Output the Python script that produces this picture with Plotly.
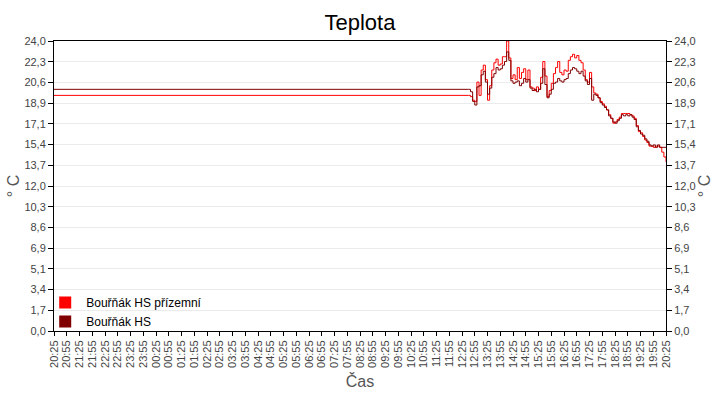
import plotly.graph_objects as go

# --- data -------------------------------------------------------------
start_day = "2024-06-01"
next_day = "2024-06-02"

# first sample (previous day, 20:25) then samples on the next day
first_time = "20:25"
first_red = 19.5
first_dark = 20.0

times = [
    "12:40", "12:45", "12:50", "12:55", "13:00", "13:05", "13:10", "13:15", "13:20", "13:25",
    "13:30", "13:35", "13:40", "13:45", "13:50", "13:55", "14:00", "14:05", "14:10", "14:15",
    "14:20", "14:25", "14:30", "14:35", "14:40", "14:45", "14:50", "14:55", "15:00", "15:05",
    "15:10", "15:15", "15:20", "15:25", "15:30", "15:35", "15:40", "15:45", "15:50", "15:55",
    "16:00", "16:05", "16:10", "16:15", "16:20", "16:25", "16:30", "16:35", "16:40", "16:45",
    "16:50", "16:55", "17:00", "17:05", "17:10", "17:15", "17:20", "17:25", "17:30", "17:35",
    "17:40", "17:45", "17:50", "17:55", "18:00", "18:05", "18:10", "18:15", "18:20", "18:25",
    "18:30", "18:35", "18:40", "18:45", "18:50", "18:55", "19:00", "19:05", "19:10", "19:15",
    "19:20", "19:25", "19:30", "19:35", "19:40", "19:45", "19:50", "19:55", "20:00", "20:05",
    "20:10", "20:15", "20:20", "20:25",
]

red_vals = [  # Bouřňák HS přízemní
    19.5, 19.4, 19.1, 19.0, 20.6, 19.5, 21.6, 22.0, 20.8, 19.1,
    20.3, 21.6, 22.2, 22.5, 22.0, 22.1, 22.7, 22.7, 24.0, 22.6,
    20.9, 21.2, 20.8, 21.8, 20.9, 21.4, 21.7, 20.8, 21.6, 20.2,
    20.1, 19.9, 20.2, 20.0, 21.0, 22.3, 21.1, 19.4, 19.9, 20.5,
    21.3, 21.8, 22.3, 21.4, 21.2, 21.6, 21.5, 22.4, 22.7, 22.9,
    22.6, 22.8, 22.4, 22.2, 21.6, 20.8, 20.6, 21.4, 20.2, 19.7,
    19.6, 19.3, 19.0, 18.8, 18.6, 18.3, 17.9, 17.6, 17.2, 17.3,
    17.5, 17.7, 18.0, 18.0, 18.0, 18.0, 17.9, 17.8, 17.6, 17.0,
    16.5, 16.4, 16.1, 15.8, 15.6, 15.3, 15.3, 15.2, 15.3, 15.3,
    15.2, 14.8, 14.4, 14.0,
]

dark_vals = [  # Bouřňák HS
    20.0, 19.8, 19.0, 18.7, 20.2, 20.3, 21.2, 21.5, 20.6, 19.6,
    20.1, 21.0, 21.3, 21.8, 21.6, 21.7, 22.0, 22.3, 23.1, 22.4,
    20.7, 20.5, 20.6, 20.7, 20.3, 20.5, 20.9, 20.6, 20.8, 20.1,
    19.9, 20.0, 19.8, 20.0, 20.5, 21.7, 20.4, 19.3, 19.6, 20.0,
    20.5, 20.6, 20.9, 20.7, 20.6, 20.8, 20.9, 21.3, 21.6, 21.8,
    21.7, 21.5, 21.3, 21.5, 21.1, 20.7, 20.4, 20.9, 19.1, 19.6,
    19.5, 19.3, 18.9, 18.7, 18.5, 18.3, 17.8, 17.6, 17.3, 17.2,
    17.4, 17.6, 17.9, 17.8, 17.9, 17.8, 17.9, 17.7, 17.5, 16.9,
    16.6, 16.3, 16.2, 15.9, 15.7, 15.4, 15.3, 15.4, 15.2, 15.4,
    15.2, 15.2, 15.2, 15.2,
]

series_names = ["Bouřňák HS přízemní", "Bouřňák HS"]
series_colors = ["#ff0000", "#800000"]

# --- build ------------------------------------------------------------
x = [f"{start_day} {first_time}"] + [f"{next_day} {t}" for t in times]
y_red = [first_red] + red_vals
y_dark = [first_dark] + dark_vals

fig = go.Figure()
for name, yv, col in [(series_names[0], y_red, series_colors[0]),
                      (series_names[1], y_dark, series_colors[1])]:
    fig.add_trace(go.Scatter(x=x, y=yv, mode="lines", line=dict(color=col, width=1, shape="hv"),
                             name=name, showlegend=False, hoverinfo="x+y"))
# legend squares
for name, col in zip(series_names, series_colors):
    fig.add_trace(go.Scatter(x=[None], y=[None], mode="markers", name=name,
                             marker=dict(symbol="square", size=15, color=col)))
# invisible trace to activate right axis
fig.add_trace(go.Scatter(x=[x[0]], y=[None], yaxis="y2", showlegend=False, hoverinfo="skip"))

font_family = "Liberation Sans, Arial, sans-serif"
ymax = 24.0
ystep = ymax / 14

yaxis_common = dict(range=[0, ymax], tick0=0, dtick=ystep, tickformat=".1f",
                    showline=True, linecolor="black", linewidth=1,
                    ticks="outside", ticklen=5, tickcolor="black",
                    tickfont=dict(size=11, color="#444444", family=font_family),
                    zeroline=False, fixedrange=True)

fig.update_layout(
    width=720, height=400,
    margin=dict(l=54, r=54, t=41, b=69),
    paper_bgcolor="white", plot_bgcolor="white",
    separators=",.",
    font=dict(family=font_family),
    title=dict(text="Teplota", x=0.5, xanchor="center", y=0.945, yanchor="middle",
               font=dict(size=22, color="black", family=font_family)),
    xaxis=dict(type="date", range=[f"{start_day} 20:25", f"{next_day} 20:25"],
               tick0=f"{start_day} 20:25", dtick=30 * 60 * 1000, tickformat="%H:%M",
               tickangle=-90, tickfont=dict(size=11, color="#444444", family=font_family),
               showline=True, linecolor="black", linewidth=1, mirror=True,
               ticks="outside", ticklen=4, tickcolor="black", showgrid=False,
               title=dict(text="Čas", font=dict(size=16, color="#555555"), standoff=8)),
    yaxis=dict(**yaxis_common, showgrid=True, gridcolor="#ebebeb", gridwidth=1,
               title=dict(text="° C", font=dict(size=16, color="#555555"), standoff=0)),
    yaxis2=dict(**yaxis_common, overlaying="y", side="right", showgrid=False,
                title=dict(text="° C", font=dict(size=16, color="#555555"), standoff=0)),
    legend=dict(x=-0.016, y=-0.017, xanchor="left", yanchor="bottom",
                bgcolor="rgba(255,255,255,0)", font=dict(size=12, color="black"),
                itemsizing="constant", itemwidth=32, tracegroupgap=0),
)

fig.write_html("out.html")
